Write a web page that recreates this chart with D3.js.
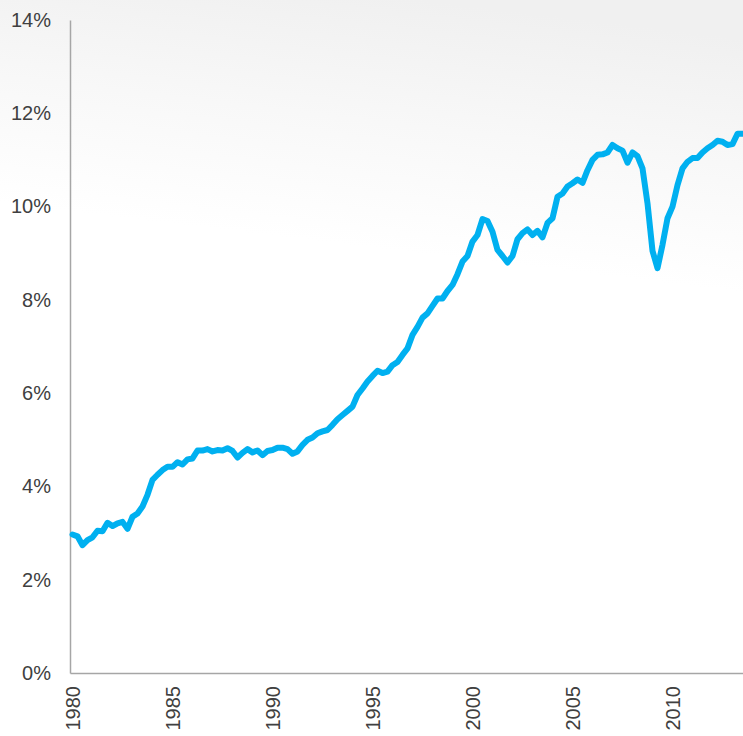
<!DOCTYPE html>
<html>
<head>
<meta charset="utf-8">
<script src="https://d3js.org/d3.v7.min.js"></script>
<style>
    html, body { margin: 0; padding: 0; background: #fff; }
    svg { display: block; }
    .axis text { font-family: "Liberation Sans", Arial, sans-serif; font-size: 20px; fill: #404040; }
</style>
</head>
<body>
<div id="chart"></div>
<script>

// quarterly values, in percent, first quarter of each year first
var startYear = 1980;
var values1980s = [
    2.97, 2.93, 2.74, 2.85,
    2.91, 3.05, 3.04, 3.22,
    3.15, 3.21, 3.24, 3.09,
    3.35, 3.42, 3.57, 3.82,
    4.14, 4.25, 4.35, 4.42,
    4.42, 4.52, 4.47, 4.58,
    4.60, 4.77, 4.77, 4.80,
    4.75, 4.78, 4.77, 4.82,
    4.76, 4.62, 4.72, 4.80,
    4.73, 4.77, 4.67, 4.76
];
var values1990s = [
    4.78, 4.83, 4.83, 4.80,
    4.70, 4.75, 4.89, 5.00,
    5.05, 5.14, 5.18, 5.21,
    5.32, 5.44, 5.53, 5.62,
    5.71, 5.96, 6.10, 6.25,
    6.37, 6.48, 6.43, 6.46,
    6.60, 6.67, 6.82, 6.96,
    7.25, 7.42, 7.62, 7.71,
    7.87, 8.03, 8.03, 8.19,
    8.32, 8.55, 8.82, 8.94
];
var values2000s = [
    9.25, 9.39, 9.73, 9.69,
    9.46, 9.07, 8.94, 8.80,
    8.94, 9.30, 9.43, 9.51,
    9.39, 9.48, 9.34, 9.65,
    9.75, 10.21, 10.28, 10.43,
    10.50, 10.58, 10.51, 10.78,
    11.00, 11.11, 11.12, 11.16,
    11.32, 11.25, 11.20, 10.94,
    11.16, 11.08, 10.82, 10.07,
    9.05, 8.68, 9.18, 9.75
];
var values2010s = [
    10.00, 10.46, 10.82, 10.96,
    11.04, 11.04, 11.16, 11.25,
    11.32, 11.41, 11.39, 11.32,
    11.34, 11.56, 11.56, 11.56
];

var yTicks = [0, 2, 4, 6, 8, 10, 12, 14];
var xTicks = [1980, 1985, 1990, 1995, 2000, 2005, 2010];

var width = 743, height = 736;
var margin = {top: 20, left: 70, bottom: 63};

var series = values1980s.concat(values1990s, values2000s, values2010s).map(function (v, i) {
    return {t: startYear + i / 4, v: v};
});

var svg = d3.select('#chart').append('svg')
    .attr('width', width)
    .attr('height', height);

// soft grey wash at the top of the slide
var grad = svg.append('defs').append('linearGradient')
    .attr('id', 'bg')
    .attr('gradientUnits', 'userSpaceOnUse')
    .attr('x1', 420).attr('y1', 0)
    .attr('x2', 390).attr('y2', 250);
grad.append('stop').attr('offset', 0).attr('stop-color', '#f0f0f0');
grad.append('stop').attr('offset', 0.5).attr('stop-color', '#f8f8f8');
grad.append('stop').attr('offset', 1).attr('stop-color', '#ffffff');

svg.append('rect')
    .attr('width', width)
    .attr('height', height)
    .attr('fill', 'url(#bg)');

var x = d3.scaleLinear()
    .domain([1979.875, 1979.875 + (width - margin.left) / 20])
    .range([margin.left, width]);

var y = d3.scaleLinear()
    .domain([0, 14])
    .range([height - margin.bottom, margin.top]);

var yAxis = d3.axisLeft(y)
    .tickValues(yTicks)
    .tickSize(0)
    .tickPadding(19)
    .tickFormat(function (d) { return d + '%'; });

var xAxis = d3.axisBottom(x)
    .tickValues(xTicks)
    .tickSize(0)
    .tickFormat(d3.format('d'));

var gy = svg.append('g')
    .attr('class', 'axis')
    .attr('transform', 'translate(' + margin.left + ',0)')
    .call(yAxis);

var gx = svg.append('g')
    .attr('class', 'axis')
    .attr('transform', 'translate(0,' + (height - margin.bottom) + ')')
    .call(xAxis);

gx.selectAll('text')
    .attr('transform', 'rotate(-90)')
    .attr('x', -13)
    .attr('y', 0)
    .attr('dy', '0.35em')
    .style('text-anchor', 'end');

svg.selectAll('.axis .domain')
    .attr('stroke', '#a6a6a6')
    .attr('stroke-width', 1.5);

var line = d3.line()
    .x(function (d) { return x(d.t); })
    .y(function (d) { return y(d.v); })
    .curve(d3.curveLinear);

svg.append('path')
    .datum(series)
    .attr('fill', 'none')
    .attr('stroke', '#00b0f0')
    .attr('stroke-width', 6)
    .attr('stroke-linejoin', 'round')
    .attr('stroke-linecap', 'round')
    .attr('d', line);

</script>
</body>
</html>
